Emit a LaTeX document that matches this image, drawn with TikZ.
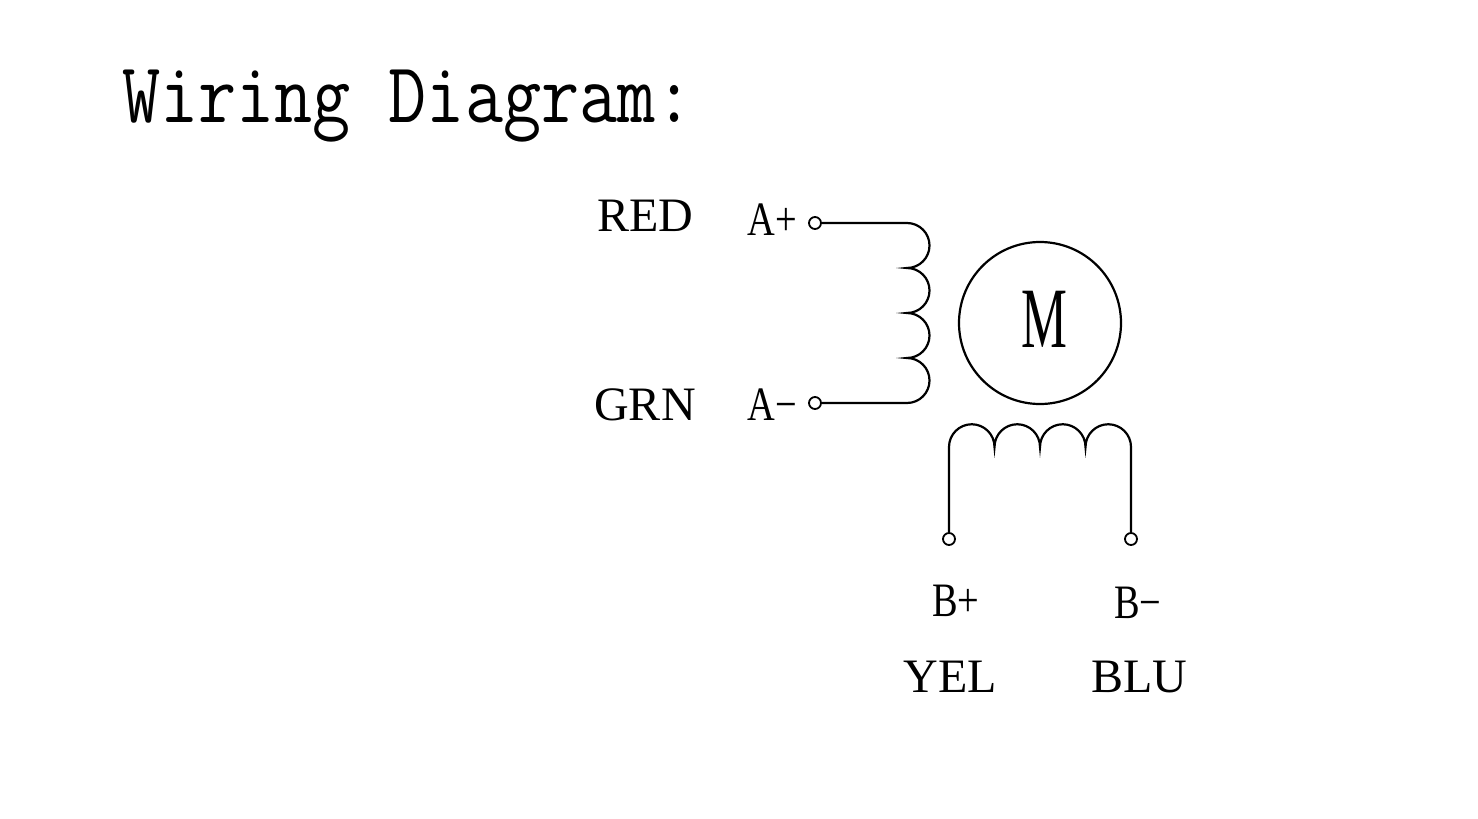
\documentclass[tikz,border=0pt]{standalone}
\usepackage{fontspec}
\setmainfont{Liberation Serif}
\begin{document}
\begin{tikzpicture}[x=1pt,y=-1pt,
  wire/.style={line width=2.2pt,black},
  term/.style={circle,draw,line width=1.8pt,inner sep=0pt,minimum size=12pt,fill=white},
  colorlbl/.style={anchor=base,inner sep=0pt,font=\fontsize{48}{48}\selectfont},
  pinlbl/.style={anchor=base,inner sep=0pt,font=\fontsize{48}{48}\selectfont}]
\useasboundingbox[fill=white] (0,0) rectangle (1478,819);
% title
\node[anchor=base west,inner sep=0pt,font=\ttfamily\fontsize{86}{86}\selectfont] (title) at (122,122) {\scalebox{0.86}[1]{Wiring Diagram:}};
% motor
\draw[wire] (1040,323) circle (81);
\node[anchor=base,inner sep=0pt,font=\fontsize{86}{86}\selectfont] (m) at (1044,347) {\scalebox{0.6}[1]{M}};
% terminals
\node[term] (ap) at (815,223) {};
\node[term] (am) at (815,403) {};
\node[term] (bp) at (949,539) {};
\node[term] (bm) at (1131,539) {};
% coil A
\draw[wire] (ap.east) -- (907,223)
  arc[start angle=-90,end angle=90,radius=22.5]
  arc[start angle=-90,end angle=90,radius=22.5]
  arc[start angle=-90,end angle=90,radius=22.5]
  arc[start angle=-90,end angle=90,radius=22.5]
  -- (am.east);
% coil B
\draw[wire] (bp.north) -- (949,447)
  arc[start angle=180,end angle=360,radius=22.75]
  arc[start angle=180,end angle=360,radius=22.75]
  arc[start angle=180,end angle=360,radius=22.75]
  arc[start angle=180,end angle=360,radius=22.75]
  -- (bm.north);
% labels
\node[colorlbl] (red) at (645,231) {RED};
\node[colorlbl] (grn) at (645,420) {GRN};
\node[colorlbl] (yel) at (950,692) {YEL};
\node[colorlbl] (blu) at (1139,692) {BLU};
\node[pinlbl] (lap) at (772,235) {\scalebox{0.8}[1]{A+}};
\node[pinlbl] (lam) at (772,420) {\scalebox{0.8}[1]{A−}};
\node[pinlbl] (lbp) at (956,616) {\scalebox{0.8}[1]{B+}};
\node[pinlbl] (lbm) at (1138,618) {\scalebox{0.8}[1]{B−}};
\end{tikzpicture}
\end{document}
